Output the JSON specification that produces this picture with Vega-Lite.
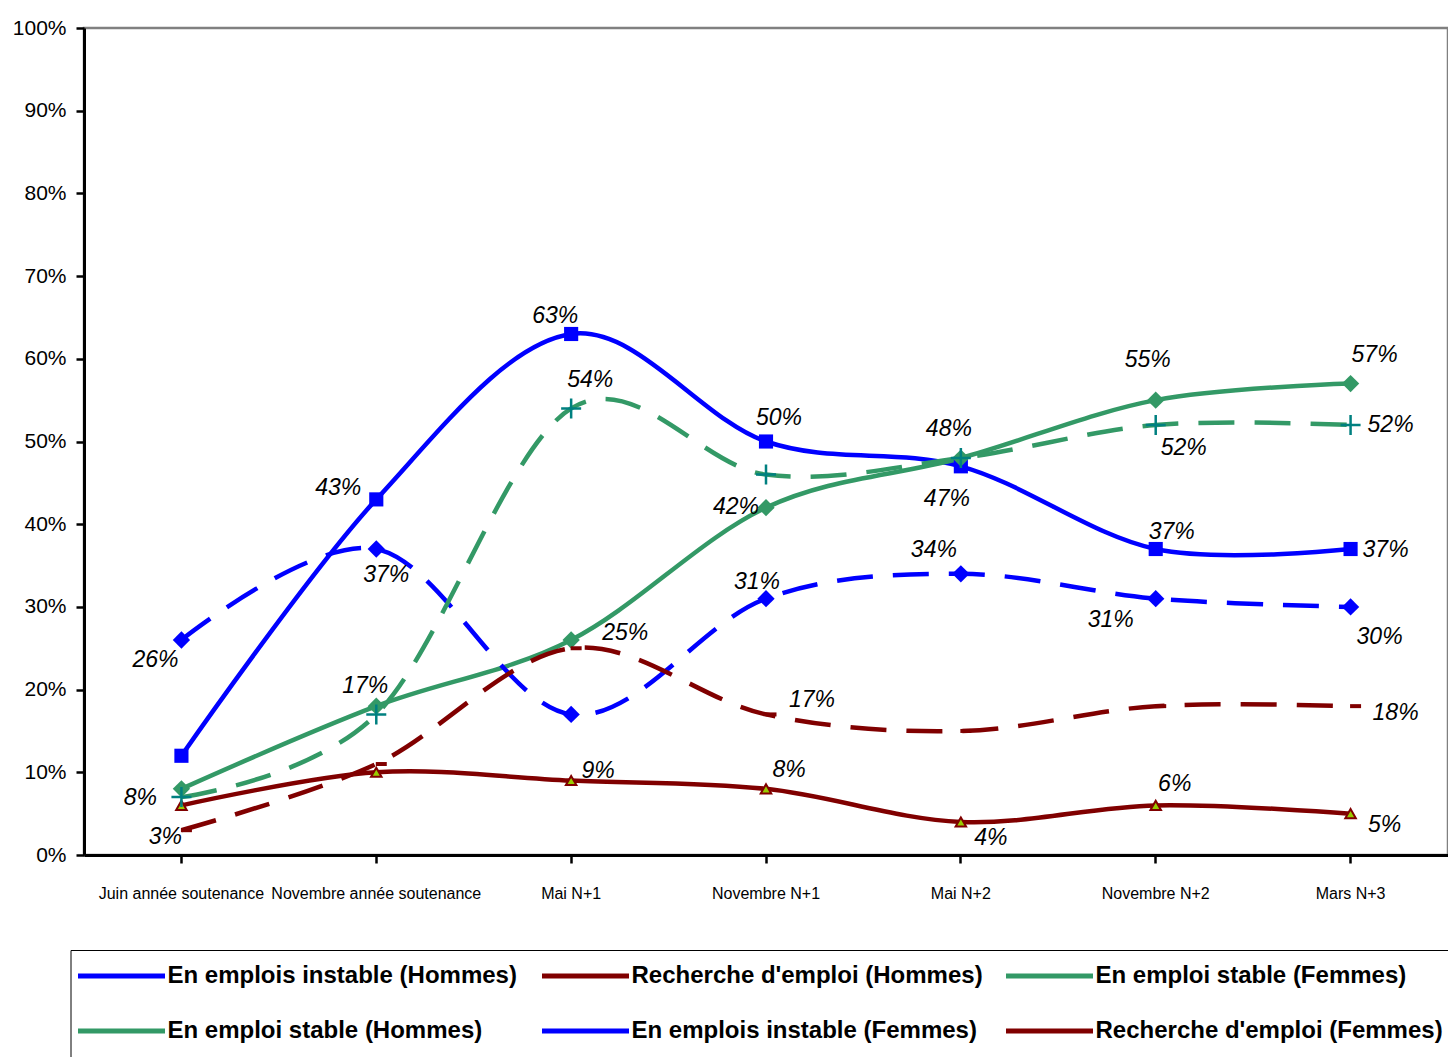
{
  "$schema": "https://vega.github.io/schema/vega-lite/v6.json",
  "width": 1364,
  "height": 827,
  "autosize": "none",
  "padding": {"left": 84, "top": 28, "right": 0, "bottom": 202},
  "config": {
    "view": {"stroke": "#808080", "strokeWidth": 2.5},
    "text": {"font": "Liberation Sans", "fontSize": 23, "fontStyle": "italic", "color": "black"}
  },
  "data": {
    "values": [
      {"cat": "Juin année soutenance", "serie": "En emplois instable (Hommes)", "pct": 0.12},
      {"cat": "Novembre année soutenance", "serie": "En emplois instable (Hommes)", "pct": 0.43},
      {"cat": "Mai N+1", "serie": "En emplois instable (Hommes)", "pct": 0.63},
      {"cat": "Novembre N+1", "serie": "En emplois instable (Hommes)", "pct": 0.50},
      {"cat": "Mai N+2", "serie": "En emplois instable (Hommes)", "pct": 0.47},
      {"cat": "Novembre N+2", "serie": "En emplois instable (Hommes)", "pct": 0.37},
      {"cat": "Mars N+3", "serie": "En emplois instable (Hommes)", "pct": 0.37},
      {"cat": "Juin année soutenance", "serie": "En emploi stable (Hommes)", "pct": 0.08},
      {"cat": "Novembre année soutenance", "serie": "En emploi stable (Hommes)", "pct": 0.18},
      {"cat": "Mai N+1", "serie": "En emploi stable (Hommes)", "pct": 0.26},
      {"cat": "Novembre N+1", "serie": "En emploi stable (Hommes)", "pct": 0.42},
      {"cat": "Mai N+2", "serie": "En emploi stable (Hommes)", "pct": 0.48},
      {"cat": "Novembre N+2", "serie": "En emploi stable (Hommes)", "pct": 0.55},
      {"cat": "Mars N+3", "serie": "En emploi stable (Hommes)", "pct": 0.57},
      {"cat": "Juin année soutenance", "serie": "Recherche d'emploi (Hommes)", "pct": 0.06},
      {"cat": "Novembre année soutenance", "serie": "Recherche d'emploi (Hommes)", "pct": 0.10},
      {"cat": "Mai N+1", "serie": "Recherche d'emploi (Hommes)", "pct": 0.09},
      {"cat": "Novembre N+1", "serie": "Recherche d'emploi (Hommes)", "pct": 0.08},
      {"cat": "Mai N+2", "serie": "Recherche d'emploi (Hommes)", "pct": 0.04},
      {"cat": "Novembre N+2", "serie": "Recherche d'emploi (Hommes)", "pct": 0.06},
      {"cat": "Mars N+3", "serie": "Recherche d'emploi (Hommes)", "pct": 0.05},
      {"cat": "Juin année soutenance", "serie": "En emplois instable (Femmes)", "pct": 0.26},
      {"cat": "Novembre année soutenance", "serie": "En emplois instable (Femmes)", "pct": 0.37},
      {"cat": "Mai N+1", "serie": "En emplois instable (Femmes)", "pct": 0.17},
      {"cat": "Novembre N+1", "serie": "En emplois instable (Femmes)", "pct": 0.31},
      {"cat": "Mai N+2", "serie": "En emplois instable (Femmes)", "pct": 0.34},
      {"cat": "Novembre N+2", "serie": "En emplois instable (Femmes)", "pct": 0.31},
      {"cat": "Mars N+3", "serie": "En emplois instable (Femmes)", "pct": 0.30},
      {"cat": "Juin année soutenance", "serie": "En emploi stable (Femmes)", "pct": 0.07},
      {"cat": "Novembre année soutenance", "serie": "En emploi stable (Femmes)", "pct": 0.17},
      {"cat": "Mai N+1", "serie": "En emploi stable (Femmes)", "pct": 0.54},
      {"cat": "Novembre N+1", "serie": "En emploi stable (Femmes)", "pct": 0.46},
      {"cat": "Mai N+2", "serie": "En emploi stable (Femmes)", "pct": 0.48},
      {"cat": "Novembre N+2", "serie": "En emploi stable (Femmes)", "pct": 0.52},
      {"cat": "Mars N+3", "serie": "En emploi stable (Femmes)", "pct": 0.52},
      {"cat": "Juin année soutenance", "serie": "Recherche d'emploi (Femmes)", "pct": 0.03},
      {"cat": "Novembre année soutenance", "serie": "Recherche d'emploi (Femmes)", "pct": 0.11},
      {"cat": "Mai N+1", "serie": "Recherche d'emploi (Femmes)", "pct": 0.25},
      {"cat": "Novembre N+1", "serie": "Recherche d'emploi (Femmes)", "pct": 0.17},
      {"cat": "Mai N+2", "serie": "Recherche d'emploi (Femmes)", "pct": 0.15},
      {"cat": "Novembre N+2", "serie": "Recherche d'emploi (Femmes)", "pct": 0.18},
      {"cat": "Mars N+3", "serie": "Recherche d'emploi (Femmes)", "pct": 0.18}
    ]
  },
  "encoding": {
    "x": {
      "field": "cat", "type": "ordinal",
      "sort": ["Juin année soutenance", "Novembre année soutenance", "Mai N+1", "Novembre N+1", "Mai N+2", "Novembre N+2", "Mars N+3"],
      "scale": {"type": "band", "paddingInner": 0, "paddingOuter": 0},
      "axis": {
        "title": null, "labelAngle": 0, "domainColor": "black", "domainWidth": 3,
        "tickColor": "black", "tickWidth": 2.5, "tickSize": 8,
        "labelFont": "Liberation Sans", "labelFontSize": 16, "labelColor": "black",
        "labelPadding": 22, "labelLimit": 300
      }
    },
    "y": {
      "field": "pct", "type": "quantitative",
      "scale": {"domain": [0, 1], "nice": false},
      "axis": {
        "title": null, "values": [0, 0.1, 0.2, 0.3, 0.4, 0.5, 0.6, 0.7, 0.8, 0.9, 1], "format": ".0%",
        "domainColor": "black", "domainWidth": 3, "tickColor": "black", "tickWidth": 2.5, "tickSize": 8,
        "labelFont": "Liberation Sans", "labelFontSize": 21, "labelColor": "black", "labelPadding": 10, "grid": false
      }
    },
    "color": {
      "field": "serie", "type": "nominal",
      "scale": {
        "domain": ["En emplois instable (Hommes)", "En emploi stable (Hommes)", "Recherche d'emploi (Hommes)", "En emplois instable (Femmes)", "En emploi stable (Femmes)", "Recherche d'emploi (Femmes)"],
        "range": ["#0000FF", "#339966", "#800000", "#0000FF", "#339966", "#800000"]
      },
      "legend": {
        "orient": "none", "legendX": -13.5, "legendY": 922, "columns": 3, "title": null,
        "symbolType": "stroke", "symbolSize": 7569, "symbolStrokeWidth": 5,
        "labelFont": "Liberation Sans", "labelFontSize": 24, "labelFontWeight": "bold",
        "labelColor": "black", "labelLimit": 500, "labelOffset": 0,
        "columnPadding": 20, "rowPadding": 13, "clipHeight": 42, "gridAlign": "all",
        "padding": 5, "strokeColor": "black"
      }
    }
  },
  "layer": [
    {
      "transform": [{"filter": "indexof(datum.serie, 'Hommes') > 0"}],
      "mark": {"type": "line", "interpolate": "cardinal", "strokeWidth": 4.5}
    },
    {
      "transform": [{"filter": "indexof(datum.serie, 'Femmes') > 0"}],
      "mark": {"type": "line", "interpolate": "cardinal", "strokeWidth": 4.5, "strokeDash": [36, 20]}
    },
    {
      "transform": [{"filter": "datum.serie == 'En emplois instable (Hommes)'"}],
      "mark": {"type": "point", "shape": "square", "filled": true, "opacity": 1, "size": 200, "color": "#FFFF99"}
    },
    {
      "transform": [{"filter": "datum.serie == 'En emploi stable (Hommes)'"}],
      "mark": {"type": "point", "shape": "diamond", "filled": true, "opacity": 1, "size": 300, "color": "#339966"}
    },
    {
      "transform": [{"filter": "indexof(datum.serie, 'Recherche') == 0 && indexof(datum.serie, 'Hommes') > 0"}],
      "mark": {"type": "point", "shape": "triangle-up", "filled": true, "opacity": 1, "size": 110, "fill": "#99CC00", "stroke": "#800000", "strokeWidth": 2}
    },
    {
      "transform": [{"filter": "datum.serie == 'En emplois instable (Femmes)'"}],
      "mark": {"type": "point", "shape": "diamond", "filled": true, "opacity": 1, "size": 300, "color": "#000000"}
    },
    {
      "transform": [{"filter": "datum.serie == 'En emploi stable (Femmes)'"}],
      "mark": {"type": "point", "shape": "M-1,0H1M0,-1V1", "filled": false, "opacity": 1, "size": 400, "stroke": "#008080", "strokeWidth": 2.5}
    },
    {
      "transform": [{"filter": "indexof(datum.serie, 'Recherche') == 0 && indexof(datum.serie, 'Femmes') > 0"}],
      "mark": {"type": "point", "shape": "M-0.05,-0.2H1.05V0.2H-0.05Z", "filled": true, "opacity": 1, "size": 400, "color": "#0000FF"}
    },
    {
      "encoding": {"text": {"field": "pct", "type": "quantitative", "format": ".0%"}, "color": {"value": "black"}},
      "layer": [
        {"transform": [{"filter": "datum.serie==\"En emplois instable (Femmes)\" && datum.cat==\"Juin année soutenance\""}], "mark": {"type": "text", "dx": -26, "dy": 20}},
        {"transform": [{"filter": "datum.serie==\"En emploi stable (Hommes)\" && datum.cat==\"Juin année soutenance\""}], "mark": {"type": "text", "dx": -41, "dy": 9}},
        {"transform": [{"filter": "datum.serie==\"Recherche d'emploi (Femmes)\" && datum.cat==\"Juin année soutenance\""}], "mark": {"type": "text", "dx": -16, "dy": 7}},
        {"transform": [{"filter": "datum.serie==\"En emplois instable (Hommes)\" && datum.cat==\"Novembre année soutenance\""}], "mark": {"type": "text", "dx": -38, "dy": -11}},
        {"transform": [{"filter": "datum.serie==\"En emplois instable (Femmes)\" && datum.cat==\"Novembre année soutenance\""}], "mark": {"type": "text", "dx": 10, "dy": 26}},
        {"transform": [{"filter": "datum.serie==\"En emploi stable (Femmes)\" && datum.cat==\"Novembre année soutenance\""}], "mark": {"type": "text", "dx": -11, "dy": -28}},
        {"transform": [{"filter": "datum.serie==\"En emplois instable (Hommes)\" && datum.cat==\"Mai N+1\""}], "mark": {"type": "text", "dx": -16, "dy": -18}},
        {"transform": [{"filter": "datum.serie==\"En emploi stable (Femmes)\" && datum.cat==\"Mai N+1\""}], "mark": {"type": "text", "dx": 19, "dy": -28}},
        {"transform": [{"filter": "datum.serie==\"Recherche d'emploi (Femmes)\" && datum.cat==\"Mai N+1\""}], "mark": {"type": "text", "dx": 54, "dy": -15}},
        {"transform": [{"filter": "datum.serie==\"Recherche d'emploi (Hommes)\" && datum.cat==\"Mai N+1\""}], "mark": {"type": "text", "dx": 27, "dy": -10}},
        {"transform": [{"filter": "datum.serie==\"En emplois instable (Hommes)\" && datum.cat==\"Novembre N+1\""}], "mark": {"type": "text", "dx": 13, "dy": -24}},
        {"transform": [{"filter": "datum.serie==\"En emploi stable (Hommes)\" && datum.cat==\"Novembre N+1\""}], "mark": {"type": "text", "dx": -30, "dy": -1}},
        {"transform": [{"filter": "datum.serie==\"En emplois instable (Femmes)\" && datum.cat==\"Novembre N+1\""}], "mark": {"type": "text", "dx": -9, "dy": -17}},
        {"transform": [{"filter": "datum.serie==\"Recherche d'emploi (Femmes)\" && datum.cat==\"Novembre N+1\""}], "mark": {"type": "text", "dx": 46, "dy": -14}},
        {"transform": [{"filter": "datum.serie==\"Recherche d'emploi (Hommes)\" && datum.cat==\"Novembre N+1\""}], "mark": {"type": "text", "dx": 23, "dy": -19}},
        {"transform": [{"filter": "datum.serie==\"En emploi stable (Hommes)\" && datum.cat==\"Mai N+2\""}], "mark": {"type": "text", "dx": -12, "dy": -29}},
        {"transform": [{"filter": "datum.serie==\"En emplois instable (Hommes)\" && datum.cat==\"Mai N+2\""}], "mark": {"type": "text", "dx": -14, "dy": 33}},
        {"transform": [{"filter": "datum.serie==\"En emplois instable (Femmes)\" && datum.cat==\"Mai N+2\""}], "mark": {"type": "text", "dx": -27, "dy": -24}},
        {"transform": [{"filter": "datum.serie==\"Recherche d'emploi (Hommes)\" && datum.cat==\"Mai N+2\""}], "mark": {"type": "text", "dx": 30, "dy": 16}},
        {"transform": [{"filter": "datum.serie==\"En emploi stable (Hommes)\" && datum.cat==\"Novembre N+2\""}], "mark": {"type": "text", "dx": -8, "dy": -40}},
        {"transform": [{"filter": "datum.serie==\"En emploi stable (Femmes)\" && datum.cat==\"Novembre N+2\""}], "mark": {"type": "text", "dx": 28, "dy": 23}},
        {"transform": [{"filter": "datum.serie==\"En emplois instable (Hommes)\" && datum.cat==\"Novembre N+2\""}], "mark": {"type": "text", "dx": 16, "dy": -17}},
        {"transform": [{"filter": "datum.serie==\"En emplois instable (Femmes)\" && datum.cat==\"Novembre N+2\""}], "mark": {"type": "text", "dx": -45, "dy": 21}},
        {"transform": [{"filter": "datum.serie==\"Recherche d'emploi (Hommes)\" && datum.cat==\"Novembre N+2\""}], "mark": {"type": "text", "dx": 19, "dy": -21}},
        {"transform": [{"filter": "datum.serie==\"En emploi stable (Hommes)\" && datum.cat==\"Mars N+3\""}], "mark": {"type": "text", "dx": 24, "dy": -29}},
        {"transform": [{"filter": "datum.serie==\"En emploi stable (Femmes)\" && datum.cat==\"Mars N+3\""}], "mark": {"type": "text", "dx": 40, "dy": 0}},
        {"transform": [{"filter": "datum.serie==\"En emplois instable (Hommes)\" && datum.cat==\"Mars N+3\""}], "mark": {"type": "text", "dx": 35, "dy": 1}},
        {"transform": [{"filter": "datum.serie==\"En emplois instable (Femmes)\" && datum.cat==\"Mars N+3\""}], "mark": {"type": "text", "dx": 29, "dy": 30}},
        {"transform": [{"filter": "datum.serie==\"Recherche d'emploi (Femmes)\" && datum.cat==\"Mars N+3\""}], "mark": {"type": "text", "dx": 45, "dy": 7}},
        {"transform": [{"filter": "datum.serie==\"Recherche d'emploi (Hommes)\" && datum.cat==\"Mars N+3\""}], "mark": {"type": "text", "dx": 34, "dy": 11}}
      ]
    }
  ]
}
